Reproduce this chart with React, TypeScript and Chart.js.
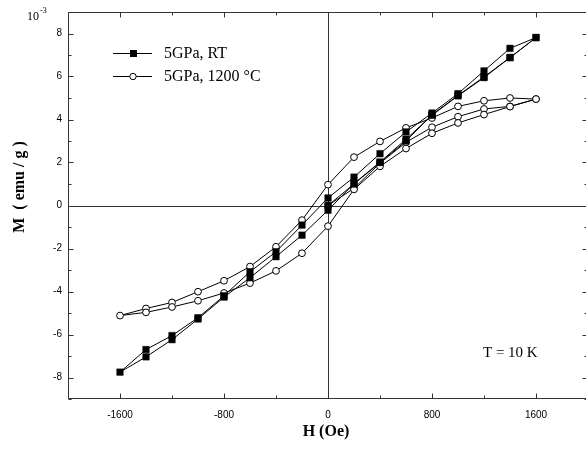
import React, { useEffect, useRef } from 'react';
import { Chart, registerables } from 'chart.js';

Chart.register(...registerables);

// Field sweep: virgin 0 -> 1600, then 1600 -> -1600, then -1600 -> 1600 (Oe)
const fieldOe = [
  0, 200, 400, 600, 800, 1000, 1200, 1400, 1600,
  1400, 1200, 1000, 800, 600, 400, 200, 0, -200, -400, -600, -800, -1000, -1200, -1400, -1600,
  -1400, -1200, -1000, -800, -600, -400, -200, 0, 200, 400, 600, 800, 1000, 1200, 1400, 1600,
];

// M (10^-3 emu/g), 5GPa RT
const momentRT = [
  0.0, 1.0, 2.0, 3.0, 4.22, 5.12, 5.98, 6.88, 7.81,
  7.31, 6.26, 5.2, 4.3, 3.42, 2.41, 1.32, 0.35, -0.91, -2.15, -3.08, -4.2, -5.22, -6.05, -6.7, -7.75,
  -7.04, -6.24, -5.28, -4.26, -3.36, -2.38, -1.38, -0.22, 1.02, 2.02, 3.08, 4.2, 5.1, 5.95, 6.88, 7.81,
];

// M (10^-3 emu/g), 5GPa 1200 °C
const moment1200 = [
  0.0, 0.8, 1.97, 2.94, 3.64, 4.13, 4.49, 4.61, 4.95,
  5.0, 4.87, 4.61, 4.07, 3.61, 2.98, 2.25, 0.97, -0.68, -1.92, -2.84, -3.5, -4.01, -4.51, -4.79, -5.12,
  -4.97, -4.72, -4.43, -4.07, -3.61, -3.04, -2.22, -0.96, 0.75, 1.82, 2.65, 3.36, 3.84, 4.23, 4.6, 4.95,
];

const xTickValues = [-1600, -800, 0, 800, 1600];
const xMinorValues = [-2000, -1200, -400, 400, 1200, 2000];
const yTickValues = [-8, -6, -4, -2, 0, 2, 4, 6, 8];
const yMinorValues = [-9, -7, -5, -3, -1, 1, 3, 5, 7, 9];

const legendLabels = ['5GPa, RT', '5GPa, 1200 \u00B0C'];
const xTitle = 'H (Oe)';
const yTitle = 'M  ( emu / g )';
const noteText = 'T = 10 K';
const unitBase = '10';
const unitExp = '-3';

const SERIF = '"Liberation Serif", "Times New Roman", serif';
const SANS = '"Liberation Sans", Arial, sans-serif';

const decorPlugin = {
  id: 'decor',
  beforeDatasetsDraw(chart: any) {
    const { ctx, chartArea: a, scales } = chart;
    const x0 = Math.round(scales.x.getPixelForValue(0)) + 0.5;
    const y0 = Math.round(scales.y.getPixelForValue(0)) + 0.5;
    ctx.save();
    ctx.strokeStyle = '#333';
    ctx.lineWidth = 1;
    ctx.beginPath();
    ctx.moveTo(x0, a.top);
    ctx.lineTo(x0, a.bottom);
    ctx.moveTo(a.left, y0);
    ctx.lineTo(a.right, y0);
    ctx.stroke();
    ctx.restore();
  },
  afterDraw(chart: any) {
    const { ctx, chartArea: a, scales } = chart;
    const xs = scales.x;
    const ys = scales.y;
    const L = Math.round(a.left) + 0.5;
    const R = Math.round(a.right) - 0.5;
    const T = Math.round(a.top) + 0.5;
    const B = Math.round(a.bottom) - 0.5;
    ctx.save();
    ctx.strokeStyle = '#333';
    ctx.lineWidth = 1;
    ctx.beginPath();
    ctx.rect(L, T, R - L, B - T);
    ctx.stroke();

    const tick = (vals: number[], len: number) => {
      vals.forEach((v) => {
        const px = Math.round(xs.getPixelForValue(v)) + 0.5;
        ctx.moveTo(px, B);
        ctx.lineTo(px, B - len);
        ctx.moveTo(px, T);
        ctx.lineTo(px, T + len);
      });
    };
    const tickY = (vals: number[], len: number) => {
      vals.forEach((v) => {
        const py = Math.round(ys.getPixelForValue(v)) + 0.5;
        ctx.moveTo(L, py);
        ctx.lineTo(L + len, py);
        ctx.moveTo(R, py);
        ctx.lineTo(R - len, py);
      });
    };
    ctx.beginPath();
    tick(xTickValues, 5);
    tick(xMinorValues, 3);
    tickY(yTickValues, 5);
    tickY(yMinorValues, 3);
    ctx.stroke();

    ctx.fillStyle = '#000';
    // unit multiplier
    ctx.textBaseline = 'middle';
    ctx.textAlign = 'left';
    ctx.font = '12px ' + SERIF;
    ctx.fillText(unitBase, 27, 17);
    const w10 = ctx.measureText(unitBase).width;
    ctx.font = '8px ' + SERIF;
    ctx.fillText(unitExp, 27 + w10 + 1, 11);

    // legend
    const rows = [53, 76];
    chart.data.datasets.forEach((ds: any, i: number) => {
      const yy = rows[i] + 0.5;
      ctx.strokeStyle = '#000';
      ctx.lineWidth = 1;
      ctx.beginPath();
      ctx.moveTo(113, yy);
      ctx.lineTo(152, yy);
      ctx.stroke();
      const cx = 133;
      if (ds.pointStyle === 'rect') {
        ctx.fillStyle = '#000';
        ctx.fillRect(cx - 3, rows[i] - 3, 7, 7);
      } else {
        ctx.beginPath();
        ctx.arc(cx, yy, 3.2, 0, Math.PI * 2);
        ctx.fillStyle = '#fff';
        ctx.fill();
        ctx.stroke();
      }
      ctx.fillStyle = '#000';
      ctx.font = '16px ' + SERIF;
      ctx.textAlign = 'left';
      ctx.fillText(legendLabels[i], 164, rows[i] + 1);
    });

    // annotation
    ctx.font = '15px ' + SERIF;
    ctx.fillText(noteText, 483, 353);

    // axis titles
    ctx.font = 'bold 16px ' + SERIF;
    ctx.textAlign = 'center';
    ctx.fillText(xTitle, xs.getPixelForValue(0) - 2, 432);
    ctx.save();
    ctx.translate(20, 187);
    ctx.rotate(-Math.PI / 2);
    ctx.fillText(yTitle, 0, 0);
    ctx.restore();

    ctx.restore();
  },
};

export default function App() {
  const ref = useRef<HTMLCanvasElement | null>(null);

  useEffect(() => {
    if (!ref.current) return;
    const chart = new Chart(ref.current, {
      type: 'line',
      data: {
        datasets: [
          {
            label: legendLabels[0],
            data: fieldOe.map((h, i) => ({ x: h, y: momentRT[i] })),
            borderColor: '#000',
            borderWidth: 1,
            pointStyle: 'rect',
            pointRadius: 4.6,
            pointBackgroundColor: '#000',
            pointBorderColor: '#000',
            pointBorderWidth: 0.5,
            tension: 0,
            fill: false,
          },
          {
            label: legendLabels[1],
            data: fieldOe.map((h, i) => ({ x: h, y: moment1200[i] })),
            borderColor: '#000',
            borderWidth: 1,
            pointStyle: 'circle',
            pointRadius: 3.4,
            pointBackgroundColor: '#fff',
            pointBorderColor: '#000',
            pointBorderWidth: 1,
            tension: 0,
            fill: false,
          },
        ],
      },
      options: {
        responsive: false,
        animation: false,
        events: [],
        layout: { padding: { left: 0, right: 12, top: 12, bottom: 0 } },
        plugins: {
          legend: { display: false },
          tooltip: { enabled: false },
          title: { display: false },
        },
        scales: {
          x: {
            type: 'linear',
            min: -2000,
            max: 2000,
            grid: { display: false, drawTicks: false },
            border: { display: false },
            afterFit: (s: any) => {
              s.height = 56;
            },
            afterBuildTicks: (s: any) => {
              s.ticks = xTickValues.map((v) => ({ value: v }));
            },
            ticks: {
              padding: 10,
              maxRotation: 0,
              color: '#000',
              font: { family: SANS, size: 10 },
              callback: (v: any) => String(v),
            },
          },
          y: {
            type: 'linear',
            min: -9,
            max: 9,
            grid: { display: false, drawTicks: false },
            border: { display: false },
            afterFit: (s: any) => {
              s.width = 68;
            },
            afterBuildTicks: (s: any) => {
              s.ticks = yTickValues.map((v) => ({ value: v }));
            },
            ticks: {
              padding: 6,
              color: '#000',
              font: { family: SANS, size: 10 },
              callback: (v: any) => String(v),
            },
          },
        },
      },
      plugins: [decorPlugin],
    });
    return () => chart.destroy();
  }, []);

  return (
    <div
      style={{
        position: 'fixed',
        left: 0,
        top: 0,
        width: 586,
        height: 455,
        overflow: 'hidden',
        background: '#fff',
      }}
    >
      <canvas ref={ref} width={600} height={455} style={{ display: 'block', width: 600, height: 455 }} />
    </div>
  );
}
